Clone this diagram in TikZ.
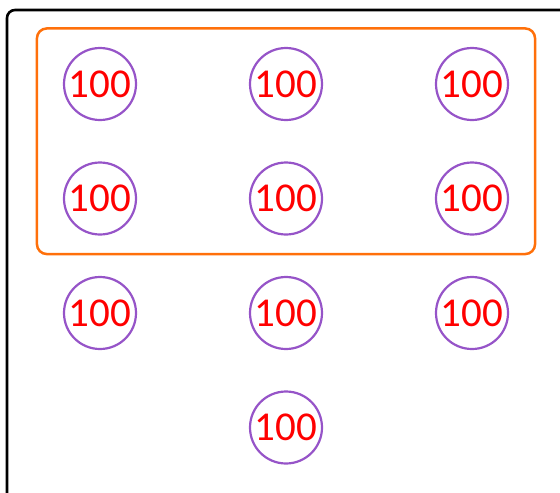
\documentclass[tikz,border=0pt]{standalone}
\usepackage{fontspec}
\setmainfont{Carlito}
\usetikzlibrary{positioning, fit}
\definecolor{ringpurple}{RGB}{150,84,200}
\definecolor{boxorange}{RGB}{255,112,10}

\begin{document}
\begin{tikzpicture}[x=1pt, y=-1pt,
    coin/.style={circle, draw=ringpurple, line width=2.2pt, minimum size=72pt, inner sep=0pt, text=red, font=\fontsize{41}{41}\selectfont},
    group/.style={draw=boxorange, line width=2.5pt, rounded corners=10pt, inner xsep=26pt, inner ysep=18.5pt},
    node distance=40.3pt and 111.8pt
]
\useasboundingbox (0,0) rectangle (560,493);
\clip (0,0) rectangle (560,493);
\draw[line width=2.6pt, rounded corners=8pt] (7,10) rectangle (640,580);

\node[coin] (c11) at (100,84) {100};
\node[coin, right=of c11] (c12) {100};
\node[coin, right=of c12] (c13) {100};
\node[coin, below=of c11] (c21) {100};
\node[coin, right=of c21] (c22) {100};
\node[coin, right=of c22] (c23) {100};
\node[coin, below=of c21] (c31) {100};
\node[coin, right=of c31] (c32) {100};
\node[coin, right=of c32] (c33) {100};
\node[coin, below=of c32] (c42) {100};

\node[group, fit=(c11) (c23)] (top) {};
\end{tikzpicture}
\end{document}
